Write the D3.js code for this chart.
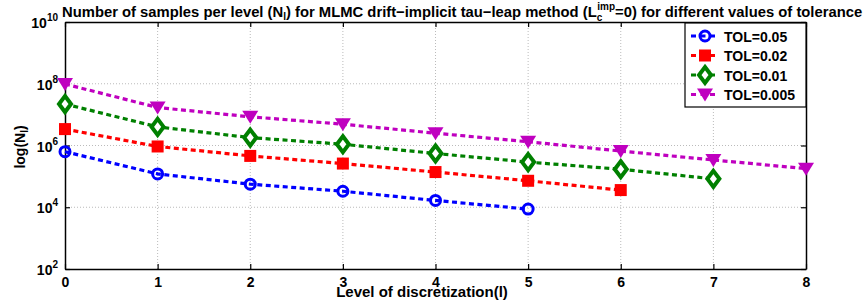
<!DOCTYPE html>
<html><head><meta charset="utf-8">
<script src="https://cdn.jsdelivr.net/npm/d3@7"></script>
<style>body{margin:0;background:#fff}svg{display:block}text{font-family:"Liberation Sans",Arial,sans-serif;font-weight:bold}</style>
</head><body>
<script>
const levels = [0,1,2,3,4,5,6,7,8];
const tol005 = [6.3e5,1.2e5,5.6e4,3.3e4,1.66e4,8.7e3];
const tol002 = [3.4e6,9.3e5,4.6e5,2.6e5,1.38e5,7.2e4,3.6e4];
const tol001 = [2.2e7,4.0e6,1.8e6,1.1e6,5.5e5,2.9e5,1.7e5,8.3e4];
const tol0005 = [9.8e7,1.7e7,8.5e6,4.9e6,2.5e6,1.32e6,6.6e5,3.4e5,1.78e5];
const seriesNames = ["TOL=0.05","TOL=0.02","TOL=0.01","TOL=0.005"];
const yTickExps = [2,4,6,8,10];
const xTicks = [0,1,2,3,4,5,6,7,8];

const W=868,H=300;
const m={l:65,r:62,t:22,b:31};
const svg=d3.select("body").append("svg").attr("width",W).attr("height",H);
const x=d3.scaleLinear().domain([0,8]).range([m.l,W-m.r]);
const y=d3.scaleLog().domain([1e2,1e10]).range([H-m.b,m.t]);

// grid
const g=svg.append("g");
g.selectAll(".gx").data(xTicks.slice(1,-1)).join("line")
 .attr("x1",d=>x(d)).attr("x2",d=>x(d)).attr("y1",m.t).attr("y2",H-m.b)
 .attr("stroke","#bbb").attr("stroke-width",1).attr("stroke-dasharray","1,2");
g.selectAll(".gy").data(yTickExps.slice(1,-1)).join("line")
 .attr("y1",d=>y(Math.pow(10,d))).attr("y2",d=>y(Math.pow(10,d))).attr("x1",m.l).attr("x2",W-m.r)
 .attr("stroke","#bbb").attr("stroke-width",1).attr("stroke-dasharray","1,2");

// axes
const ax=svg.append("g").attr("transform",`translate(0,${H-m.b})`)
 .call(d3.axisBottom(x).tickValues(xTicks).tickSizeInner(-5).tickSizeOuter(0).tickPadding(8));
const axT=svg.append("g").attr("transform",`translate(0,${m.t})`)
 .call(d3.axisTop(x).tickValues(xTicks).tickSizeInner(-5).tickSizeOuter(0).tickFormat(""));
const ayL=svg.append("g").attr("transform",`translate(${m.l},0)`)
 .call(d3.axisLeft(y).tickValues(yTickExps.map(e=>Math.pow(10,e))).tickSizeInner(-5).tickSizeOuter(0).tickFormat(""));
const ayR=svg.append("g").attr("transform",`translate(${W-m.r},0)`)
 .call(d3.axisRight(y).tickValues(yTickExps.map(e=>Math.pow(10,e))).tickSizeInner(-5).tickSizeOuter(0).tickFormat(""));
[ax,axT,ayL,ayR].forEach(a=>{a.select(".domain").attr("stroke","#000").attr("stroke-width",1.5);a.selectAll(".tick line").attr("stroke","#000").attr("stroke-width",1.2);});
ax.selectAll(".tick text").attr("font-size",14).attr("fill","#000").attr("font-weight","bold");

// y tick labels with superscripts
const yl=svg.append("g");
yTickExps.forEach(e=>{
  const t=yl.append("text").attr("x",m.l-7).attr("y",y(Math.pow(10,e))+6).attr("text-anchor","end").attr("font-size",14);
  t.append("tspan").text("10");
  t.append("tspan").attr("font-size",10).attr("dy",-7).text(e);
});

// series
const data=[tol005,tol002,tol001,tol0005];
const colors=["#0000ff","#ff0000","#008000","#bf00bf"];
const line=d3.line().x((d,i)=>x(levels[i])).y(d=>y(d));
function marker(sel,k,cx,cy){
  const c=colors[k];
  if(k===0) sel.append("circle").attr("cx",cx).attr("cy",cy).attr("r",5).attr("fill","none").attr("stroke",c).attr("stroke-width",3);
  else if(k===1) sel.append("rect").attr("x",cx-6).attr("y",cy-6).attr("width",12).attr("height",12).attr("fill",c);
  else if(k===2) sel.append("path").attr("d",`M${cx},${cy-8}L${cx+6},${cy}L${cx},${cy+8}L${cx-6},${cy}Z`).attr("fill","#fff").attr("stroke",c).attr("stroke-width",4);
  else sel.append("path").attr("d",`M${cx-8},${cy-6}L${cx+8},${cy-6}L${cx},${cy+7}Z`).attr("fill",c);
}
data.forEach((s,k)=>{
  const gg=svg.append("g");
  gg.append("path").attr("d",line(s)).attr("fill","none").attr("stroke",colors[k]).attr("stroke-width",3.2).attr("stroke-dasharray","5,3.5");
  s.forEach((v,i)=>marker(gg,k,x(levels[i]),y(v)));
});

// legend
const lg=svg.append("g");
const lx=685, ly=23, lw=121, lh=84;
lg.append("rect").attr("x",lx).attr("y",ly).attr("width",lw).attr("height",lh).attr("fill","#fff").attr("stroke","#000").attr("stroke-width",1.2);
seriesNames.forEach((n,k)=>{
  const yy=ly+13+k*19.5;
  lg.append("line").attr("x1",lx+6).attr("x2",lx+34).attr("y1",yy).attr("y2",yy).attr("stroke",colors[k]).attr("stroke-width",3).attr("stroke-dasharray","5,4.5");
  marker(lg,k,lx+20,yy);
  lg.append("text").attr("x",lx+39).attr("y",yy+5.5).attr("font-size",14).text(n);
});

// title
const tt=svg.append("text").attr("x",62).attr("y",17).attr("font-size",14.8);
tt.append("tspan").text("Number of samples per level (N");
tt.append("tspan").attr("font-size",10).attr("dy",3).text("l");
tt.append("tspan").attr("dy",-3).text(") for MLMC drift\u2212implicit tau\u2212leap method (L");
tt.append("tspan").attr("font-size",10).attr("dy",4).text("c");
tt.append("tspan").attr("font-size",10).attr("dy",-11).attr("dx",-5).text("imp");
tt.append("tspan").attr("dy",7).text("=0) for different values of tolerance");

// axis labels
svg.append("text").attr("x",422).attr("y",297).attr("text-anchor","middle").attr("font-size",15).text("Level of discretization(l)");
const yt=svg.append("text").attr("transform",`translate(25,147) rotate(-90)`).attr("text-anchor","middle").attr("font-size",14);
yt.append("tspan").text("log(N");
yt.append("tspan").attr("font-size",10).attr("dy",3).text("l");
yt.append("tspan").attr("dy",-3).text(")");
</script>
</body></html>
